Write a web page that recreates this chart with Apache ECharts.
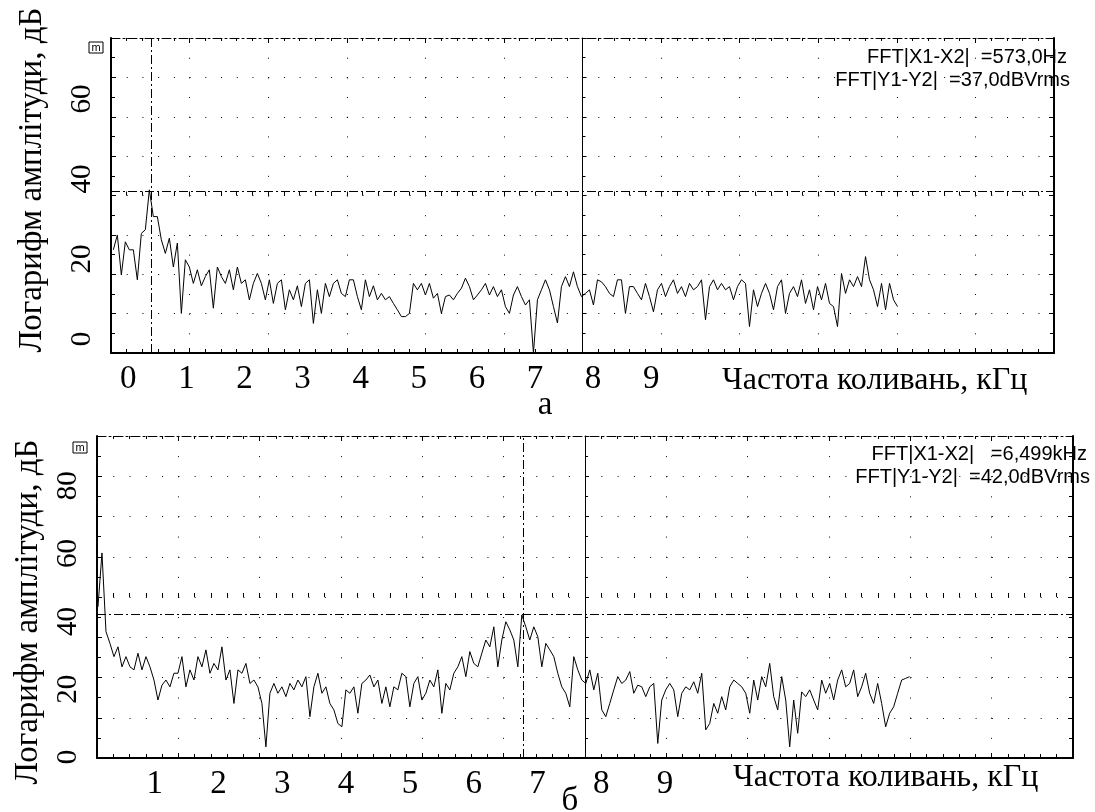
<!DOCTYPE html>
<html>
<head>
<meta charset="utf-8">
<script src="https://cdn.jsdelivr.net/npm/echarts@6.0.0/dist/echarts.min.js"></script>
<style>
html, body { margin: 0; padding: 0; background: #fff; }
#main { width: 1095px; height: 812px; }
</style>
</head>
<body>
<div id="main"></div>
<script>
// spectrum values (dB), every 4 px
const topStartKHz = 0.033;
const topStepKHz = 0.0566;
const topDb = [
  22.3, 26.0, 16.0, 24.3, 22.3, 22.3, 14.8, 26.4, 27.3, 37.3,
  30.6, 30.6, 24.8, 21.4, 25.2, 18.0, 24.0, 6.4, 19.8, 18.0,
  13.9, 17.3, 13.3, 15.6, 17.3, 7.7, 18.0, 15.6, 13.9, 17.3,
  12.3, 18.0, 13.9, 14.8, 9.8, 13.9, 16.4, 13.9, 9.8, 14.8,
  8.9, 13.9, 14.8, 7.3, 12.3, 9.8, 13.3, 8.1, 13.9, 14.8,
  3.9, 12.3, 6.4, 13.9, 10.6, 13.9, 14.8, 11.4, 10.6, 14.8,
  14.8, 10.6, 7.3, 14.8, 10.6, 13.3, 9.8, 11.4, 9.8, 10.6,
  8.9, 7.3,
  5.6, 5.6, 6.4, 13.9, 12.3, 13.9, 11.0, 13.9, 10.2, 11.4,
  6.4, 10.6, 11.0, 9.8, 11.4, 12.7, 15.2, 13.1, 9.8, 11.0,
  12.3, 13.9, 11.0, 13.1, 10.6, 12.3, 8.1, 6.4, 11.0, 13.1,
  10.6, 8.5, 9.8, -3.5, 9.8, 12.3, 14.8, 12.3, 8.1, 4.0,
  13.1, 15.6, 13.1, 16.8, 13.1, 10.6, 11.4, 12.3, 8.5, 14.8,
  14.3, 13.1, 11.4, 10.6, 14.8, 14.8, 6.4, 13.1, 13.1, 11.4,
  9.8, 13.9, 10.6, 6.8, 12.3, 13.9, 10.6, 13.1, 14.8, 11.4,
  13.1, 10.6, 13.9, 12.3, 13.1, 14.8, 4.8, 13.1, 14.8, 12.3,
  13.9, 12.3, 13.1, 9.8, 13.1,
  14.8, 13.9, 3.1, 12.3, 8.1, 11.4, 13.9, 11.4, 7.3, 13.1,
  14.8, 6.4, 11.4, 13.1, 10.6, 14.8, 8.9, 12.3, 7.3, 13.1,
  9.8, 13.9, 8.9, 8.1, 3.1, 16.4, 11.4, 14.8, 13.1, 15.6,
  13.1, 20.6, 14.8, 12.3, 8.1, 13.9, 7.3, 13.9, 9.8, 8.1
];

const bottomStartKHz = 0.015;
const bottomStepKHz = 0.061;
const bottomDb = [
  44.3, 60.2, 37.0,
  33.5, 29.6, 32.5, 26.6, 29.6, 26.6, 25.7, 30.6, 25.7, 29.6,
  26.6, 22.7, 16.8, 21.2, 22.7, 20.7, 24.7, 24.7, 29.6, 20.7,
  25.7, 22.7, 29.6, 26.6, 31.6, 24.7, 27.6, 25.7, 32.5, 22.7,
  25.7, 15.8, 25.7, 24.7, 27.6, 21.7, 22.7, 20.7, 15.8, 3.0,
  18.8, 21.7, 18.8, 20.7, 17.8, 21.7, 19.8, 22.7, 20.7, 23.7,
  11.9, 20.7, 24.7, 18.8, 20.7, 15.8, 13.9, 9.9, 8.9, 19.8,
  18.8, 20.7, 12.9, 21.7, 22.7, 24.2, 20.7, 22.7, 15.8, 20.7,
  14.8,
  20.7, 19.8, 24.7, 23.7, 14.8, 21.7, 23.7, 16.8, 18.8, 22.7,
  20.7, 25.7, 12.9, 21.7, 19.8, 24.7, 26.6, 29.6, 23.7, 31.1,
  27.6, 26.6, 30.6, 34.5, 32.5, 38.4, 26.6, 34.5, 39.9, 37.5,
  34.5, 26.6, 41.9, 38.4, 34.5, 38.4, 35.5, 26.6, 33.5, 31.6,
  29.6, 24.7, 20.7, 18.8, 14.8, 29.6, 25.7, 22.7, 21.7, 25.7,
  19.8, 24.7, 13.9, 11.9, 15.8, 19.8, 23.7, 21.7, 22.7, 25.2,
  18.8, 21.2, 20.7, 17.8, 20.7, 21.7, 4.0, 16.8, 19.8, 21.7,
  19.8, 11.9, 18.8, 20.7, 19.8, 22.2, 18.8, 24.7, 8.0, 9.9,
  15.8, 12.9, 17.8, 13.9, 20.7, 22.7, 21.7,
  20.7, 18.8, 12.9, 22.7, 16.8, 23.7, 20.7, 27.6, 17.8, 13.9,
  23.7, 16.8, 3.0, 16.8, 7.0, 19.2, 17.8, 19.8, 16.8, 13.9,
  22.7, 18.8, 21.7, 16.8, 22.7, 25.7, 20.7, 21.7, 25.7, 17.8,
  20.7, 24.7, 18.8, 15.8, 21.7, 15.8, 8.9, 12.9, 14.8, 18.8,
  22.7, 23.2, 23.7
];

// cursor readings
const topCursor = { kHz: 0.573, dB: 37 };
const bottomCursor = { kHz: 6.499, dB: 42 };
const topReadout = ['FFT|X1-X2|  =573,0Hz', 'FFT|Y1-Y2|  =37,0dBVrms'];
const bottomReadout = ['FFT|X1-X2|   =6,499kHz', 'FFT|Y1-Y2|  =42,0dBVrms'];

// hand-typed tick labels under each plot
const topTickLabels = ['0', '1', '2', '3', '4', '5', '6', '7', '8', '9'];
const bottomTickLabels = ['', '1', '2', '3', '4', '5', '6', '7', '8', '9'];
const yTitle = 'Логарифм амплітуди, дБ';
const xTitle = 'Частота коливань, кГц';
const panelLetters = ['а', 'б'];

const black = '#000';
const serif = "'Liberation Serif', 'Times New Roman', serif";
const sans = "'Liberation Sans', Arial, sans-serif";

function toPairs(start, step, arr) {
  return arr.map((v, i) => [+(start + i * step).toFixed(4), v]);
}

const tickStyle = { color: black, width: 1 };

// scope graticule: 12 x 8 divisions, built from "division" axes
function panelXAxes(g, xMax, yDivIdx, vGap) {
  return [
    { gridIndex: g, type: 'value', min: -6, max: 6, interval: 1, position: 'bottom',
      axisLine: { onZero: false, lineStyle: { color: black, width: 2 } },
      axisTick: { inside: true, length: 5, lineStyle: tickStyle },
      minorTick: { show: true, splitNumber: 5, length: 4, lineStyle: tickStyle },
      axisLabel: { show: false },
      splitLine: { show: true, lineStyle: { color: black, width: 1, type: [1, vGap] } } },
    { gridIndex: g, type: 'value', min: -6, max: 6, interval: 1, position: 'top',
      axisLine: { onZero: false, lineStyle: { color: black, width: 1, type: [9, 3, 2, 3] } },
      axisTick: { inside: true, length: 5, lineStyle: tickStyle },
      minorTick: { show: true, splitNumber: 5, length: 3, lineStyle: tickStyle },
      axisLabel: { show: false }, splitLine: { show: false } },
    { gridIndex: g, type: 'value', min: -6, max: 6, interval: 1, position: 'bottom',
      axisLine: { onZero: true, onZeroAxisIndex: yDivIdx, lineStyle: { color: black, opacity: 0 } },
      axisTick: { inside: true, length: 4, lineStyle: tickStyle },
      minorTick: { show: true, splitNumber: 5, length: 4, lineStyle: tickStyle },
      axisLabel: { show: false }, splitLine: { show: false } },
    { gridIndex: g, type: 'value', min: 0, max: xMax, show: false,
      axisLine: { onZero: false } }
  ];
}

function panelYAxes(g, yMin, yMax, xDivIdx, hGap) {
  return [
    { gridIndex: g, type: 'value', min: -4, max: 4, interval: 1, position: 'left',
      axisLine: { onZero: false, lineStyle: { color: black, width: 2 } },
      axisTick: { inside: true, length: 5, lineStyle: tickStyle },
      minorTick: { show: true, splitNumber: 2, length: 4, lineStyle: tickStyle },
      axisLabel: { show: false },
      splitLine: { show: true, lineStyle: { color: black, width: 1, type: [1, hGap] } } },
    { gridIndex: g, type: 'value', min: -4, max: 4, interval: 1, position: 'right',
      axisLine: { onZero: false, lineStyle: { color: black, width: 2 } },
      axisTick: { inside: true, length: 5, lineStyle: tickStyle },
      minorTick: { show: true, splitNumber: 2, length: 4, lineStyle: tickStyle },
      axisLabel: { show: false }, splitLine: { show: false } },
    { gridIndex: g, type: 'value', min: -4, max: 4, interval: 1, position: 'left',
      axisLine: { onZero: true, onZeroAxisIndex: xDivIdx, lineStyle: { color: black, width: 1 } },
      axisTick: { inside: true, length: 4, lineStyle: tickStyle },
      minorTick: { show: true, splitNumber: 2, length: 3, lineStyle: tickStyle },
      axisLabel: { show: false }, splitLine: { show: false } },
    { gridIndex: g, type: 'value', min: yMin, max: yMax, position: 'left',
      axisLine: { show: false, onZero: false }, axisTick: { show: false },
      splitLine: { show: false },
      axisLabel: { rotate: 90, margin: 14, fontSize: 29, fontFamily: serif, color: black,
        formatter: v => (v % 20 === 0 ? String(v) : '') } }
  ];
}

function labelXAxis(g, max, labels) {
  return { gridIndex: g, type: 'value', min: 0, max: max, interval: 1, position: 'bottom',
    axisLine: { show: false, onZero: false }, axisTick: { show: false }, splitLine: { show: false },
    axisLabel: { margin: 10, fontSize: 33, fontFamily: serif, color: black,
      formatter: v => labels[v] || '' } };
}
function labelYAxis(g) {
  return { gridIndex: g, type: 'value', min: 0, max: 1, show: false, axisLine: { onZero: false } };
}

function spectrum(xIdx, yIdx, data, cursor) {
  return {
    type: 'line', xAxisIndex: xIdx, yAxisIndex: yIdx, data: data,
    showSymbol: false, symbol: 'none', silent: true,
    lineStyle: { color: black, width: 1 },
    markLine: {
      symbol: 'none', silent: true, label: { show: false },
      lineStyle: { color: black, width: 1, type: [9, 3, 2, 3] },
      data: [{ xAxis: cursor.kHz }, { yAxis: cursor.dB }]
    }
  };
}

function text(x, y, str, font, align, rot) {
  return { type: 'text', x: x, y: y, rotation: rot || 0, silent: true,
    style: { text: str, font: font, fill: black,
      align: align, textAlign: align, verticalAlign: 'middle', textVerticalAlign: 'middle' } };
}
function markerBox(x, y) {
  return { type: 'group', x: x, y: y, silent: true, children: [
    { type: 'rect', shape: { x: 0, y: 0, width: 14, height: 11 },
      style: { fill: '#fff', stroke: black, lineWidth: 1 } },
    { type: 'text', x: 7, y: 6, style: { text: 'm', font: `11px ${sans}`, fill: black,
      align: 'center', textAlign: 'center', verticalAlign: 'middle', textVerticalAlign: 'middle' } }
  ] };
}

const chart = echarts.init(document.getElementById('main'), null, { renderer: 'canvas' });

chart.setOption({
  animation: false,
  backgroundColor: '#fff',
  grid: [
    { left: 111, top: 38, width: 943, height: 315, outerBoundsMode: 'none' },
    { left: 128.3, top: 38, width: 16 * 58.1, height: 315, outerBoundsMode: 'none' },
    { left: 97, top: 436, width: 976, height: 322, outerBoundsMode: 'none' },
    { left: 90.9, top: 436, width: 15 * 63.8, height: 322, outerBoundsMode: 'none' }
  ],
  xAxis: [
    ...panelXAxes(0, 13.34, 0, 18.69),
    labelXAxis(1, 16, topTickLabels),
    ...panelXAxes(2, 14.89, 5, 19.12),
    labelXAxis(3, 15, bottomTickLabels)
  ],
  yAxis: [
    ...panelYAxes(0, -3.5, 75.25, 0, 14.72),
    labelYAxis(1),
    ...panelYAxes(2, -0.3, 94.7, 5, 15.27),
    labelYAxis(3)
  ],
  series: [
    spectrum(3, 3, toPairs(topStartKHz, topStepKHz, topDb), topCursor),
    spectrum(8, 8, toPairs(bottomStartKHz, bottomStepKHz, bottomDb), bottomCursor)
  ],
  graphic: { elements: [
    text(32, 180, yTitle, `33px ${serif}`, 'center', Math.PI / 2),
    text(28, 612, yTitle, `33px ${serif}`, 'center', Math.PI / 2),
    text(722, 381, xTitle, `32px ${serif}`, 'left'),
    text(733, 778, xTitle, `32px ${serif}`, 'left'),
    text(545, 405, panelLetters[0], `33px ${serif}`, 'center'),
    text(570, 801, panelLetters[1], `33px ${serif}`, 'center'),
    text(1067, 57, topReadout[0], `20px ${sans}`, 'right'),
    text(1070, 80, topReadout[1], `20px ${sans}`, 'right'),
    text(1087, 454, bottomReadout[0], `20px ${sans}`, 'right'),
    text(1090, 477, bottomReadout[1], `20px ${sans}`, 'right'),
    markerBox(89, 42),
    markerBox(73, 442)
  ] }
});
</script>
</body>
</html>
